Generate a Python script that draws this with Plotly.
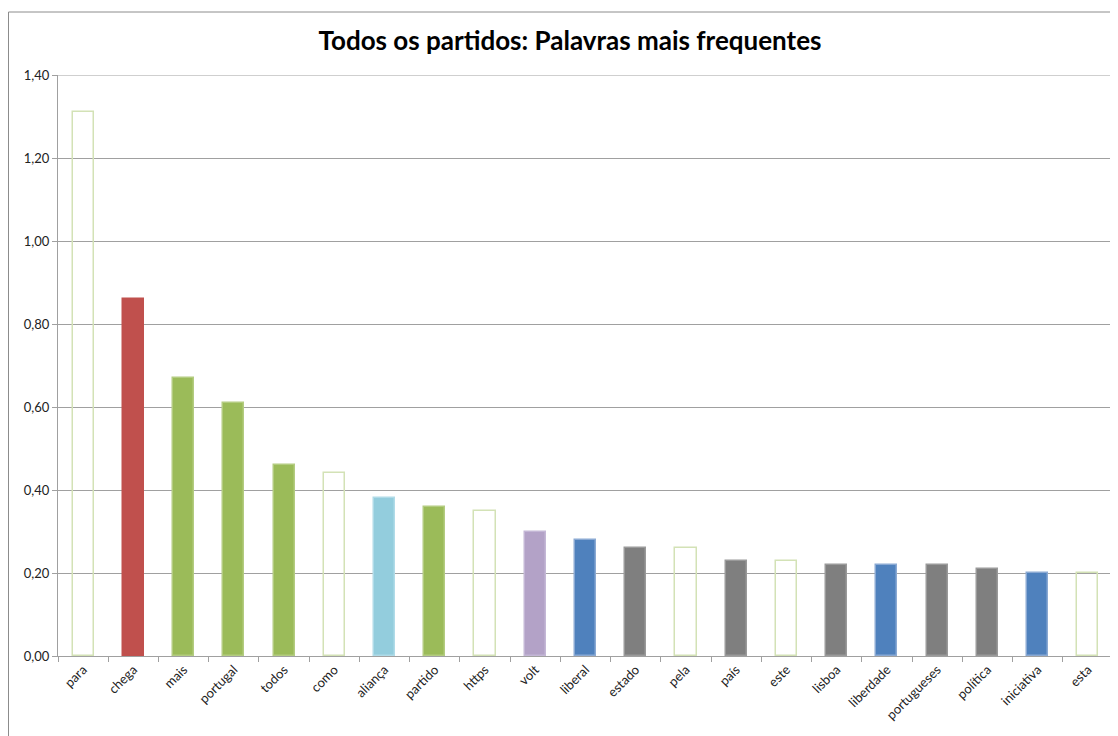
import plotly.graph_objects as go

categories = ["para", "chega", "mais", "portugal", "todos", "como", "aliança", "partido",
              "https", "volt", "liberal", "estado", "pela", "país", "este", "lisboa",
              "liberdade", "portugueses", "política", "iniciativa", "esta"]
values = [1.31, 0.86, 0.67, 0.61, 0.46, 0.44, 0.38, 0.36, 0.35, 0.30, 0.28, 0.26,
          0.26, 0.23, 0.23, 0.22, 0.22, 0.22, 0.21, 0.20, 0.20]
groups = ["none", "chega", "green", "green", "green", "none", "alianca", "green",
          "none", "volt", "blue", "gray", "none", "gray", "none", "gray",
          "blue", "gray", "gray", "blue", "none"]
y_ticks = [0, 0.2, 0.4, 0.6, 0.8, 1.0, 1.2, 1.4]

fill_map = {"none": "rgba(255,255,255,0)", "chega": "#c0504d", "green": "#9bbb59",
            "alianca": "#93cddd", "volt": "#b3a2c7", "blue": "#4f81bd", "gray": "#7f7f7f"}
line_map = {"none": "#d3e2b6", "chega": "#c0504d", "green": "#b3cc80",
            "alianca": "#b0dbe8", "volt": "#c4b7d6", "blue": "#8aa9d3", "gray": "#9a9a9a"}

# page body has an 8px margin, so the figure is offset by 8px
OFF = 8
W, H = 1118 - OFF, 736 - OFF
L, T = 58 - OFF, 75 - OFF
R = W - (1113 - OFF)
B = H - (656 - OFF)

fig = go.Figure()
fig.add_trace(go.Bar(
    x=categories, y=values,
    width=0.42,
    marker=dict(color=[fill_map[g] for g in groups],
                line=dict(color=[line_map[g] for g in groups], width=1.5)),
    hoverinfo="x+y",
))

pw = W - L - R
ph = H - T - B
fig.add_shape(type="rect", xref="paper", yref="paper",
              x0=(8 - OFF + 0.5 - L) / pw, x1=1.2, y0=-0.5, y1=1 + (T - (12 - OFF)) / ph,
              line=dict(color="#8c8c8c", width=1), fillcolor="rgba(0,0,0,0)", layer="below")
# top gridline (at the last tick), which plotly hides at the plot edge
fig.add_shape(type="line", xref="paper", yref="y", x0=0, x1=1,
              y0=y_ticks[-1], y1=y_ticks[-1],
              line=dict(color="#a0a0a0", width=1), layer="below")

fig.update_layout(
    width=W, height=H,
    margin=dict(l=L, r=R, t=T, b=B, autoexpand=False),
    paper_bgcolor="white", plot_bgcolor="white",
    separators=",.",
    showlegend=False,
    bargap=0,
    title=dict(text="<b>Todos os partidos: Palavras mais frequentes</b>",
               x=(570 - OFF) / W, xref="container", xanchor="center",
               y=1 - (41 - OFF) / H, yref="container", yanchor="middle",
               font=dict(family="Lato, Open Sans, sans-serif", size=26, color="#000000")),
    font=dict(family="Lato, Open Sans, sans-serif", size=13, color="#222222"),
)
fig.update_xaxes(
    type="category", tickson="boundaries", ticks="outside", ticklen=5,
    tickcolor="#a0a0a0", showline=True, linecolor="#a0a0a0", linewidth=1,
    tickangle=-45, tickfont=dict(size=13, color="#222222"), showgrid=False,
    automargin=False,
)
fig.update_yaxes(
    range=[0, 1.4], tickvals=y_ticks, tickformat=".2f", ticks="outside", ticklen=5,
    tickcolor="#a0a0a0", showline=True, linecolor="#a0a0a0", linewidth=1,
    showgrid=True, gridcolor="#a0a0a0", gridwidth=1, zeroline=False,
    tickfont=dict(size=13, color="#222222"), automargin=False,
)

fig.write_html("out.html")
